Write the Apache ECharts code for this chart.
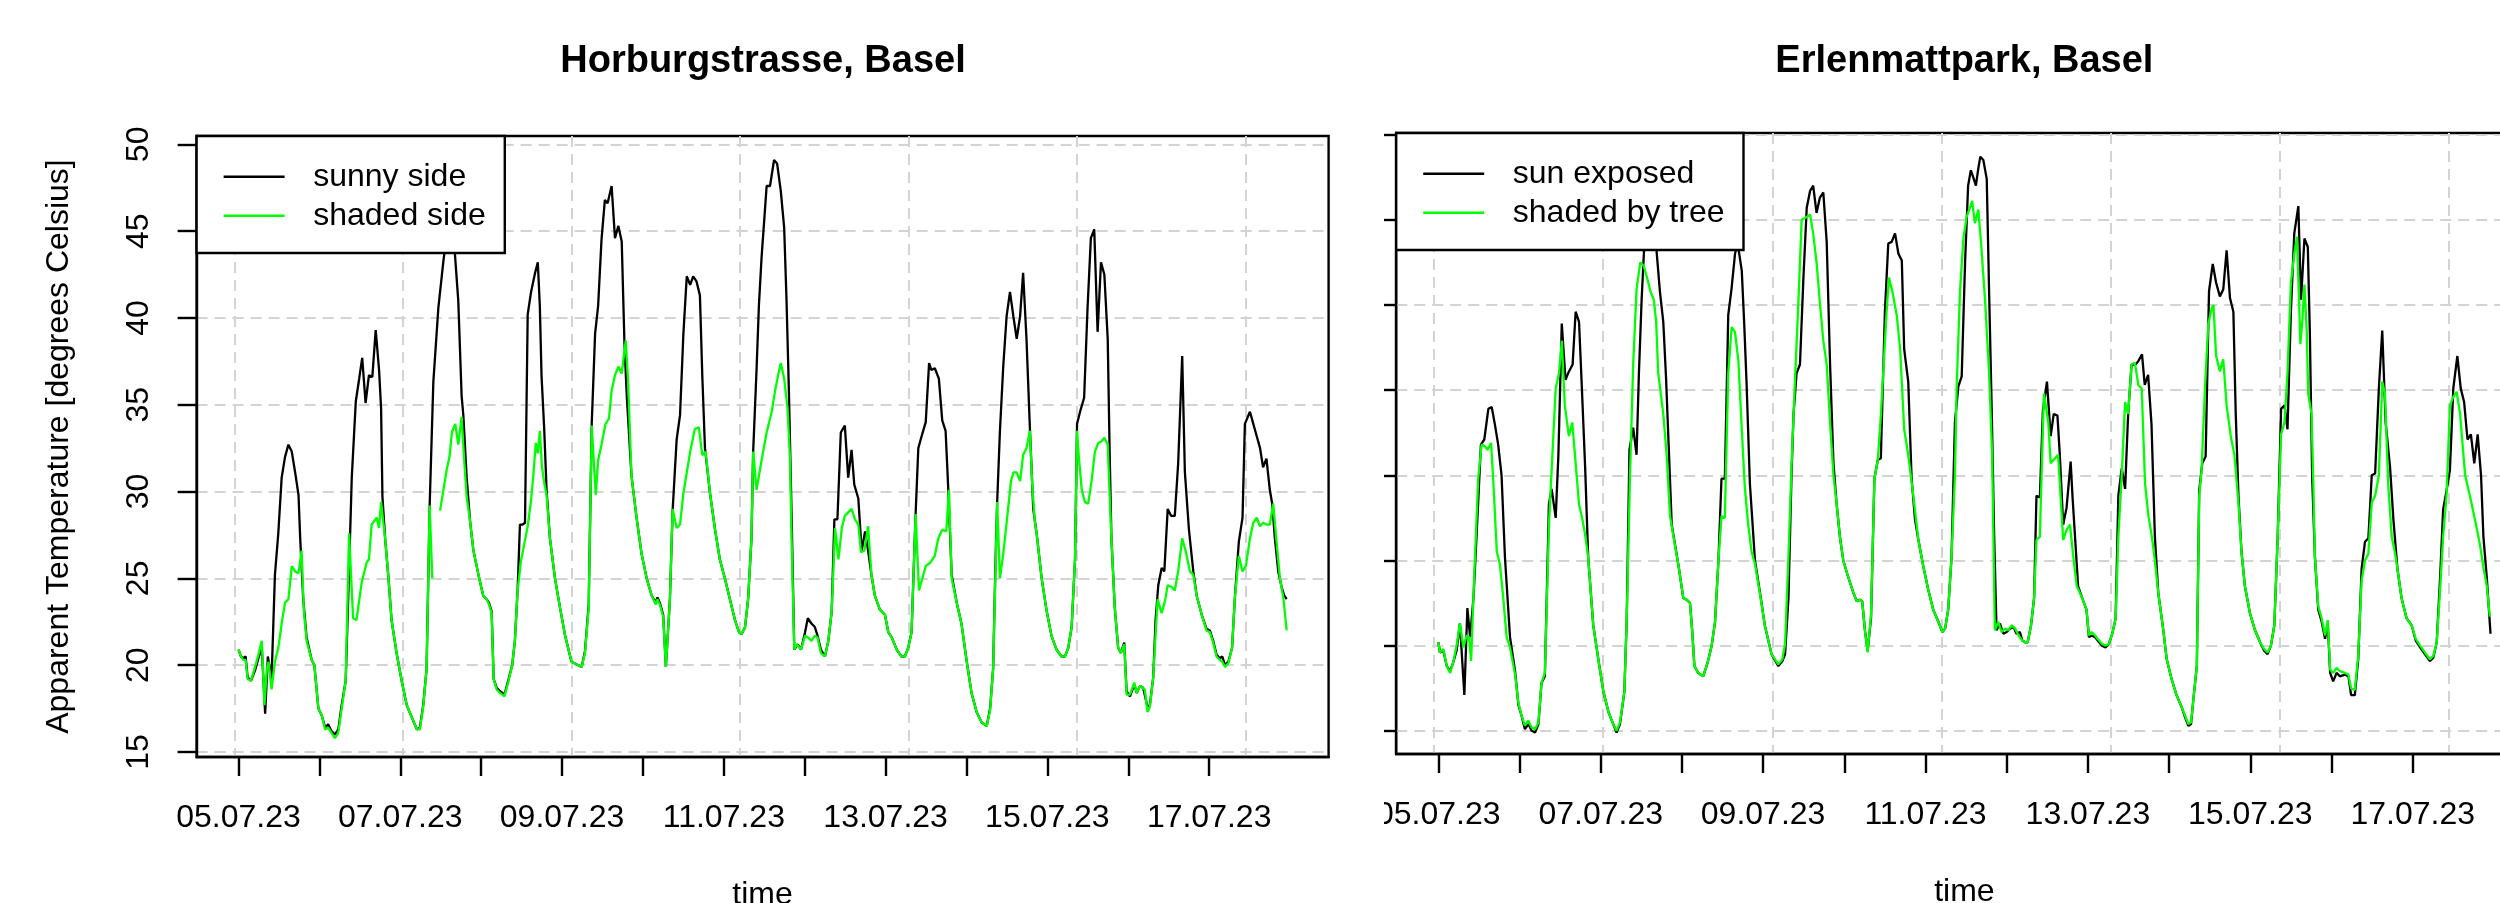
<!DOCTYPE html>
<html><head><meta charset="utf-8">
<script src="https://cdn.jsdelivr.net/npm/echarts@6.0.0/dist/echarts.min.js"></script>
<style>
html,body{margin:0;padding:0;background:#fff;}
#wrap{position:relative;width:2500px;height:903px;overflow:hidden;background:#fff;}
#left{position:absolute;left:0;top:0;width:1384px;height:903px;}
#right{position:absolute;left:1384px;top:0;width:1116px;height:903px;}
</style></head><body>
<div id="wrap"><div id="left"></div><div id="right"></div></div>
<script>
// x values: hours since 05.07.23 00:00
const tickHours = [0,24,48,72,96,120,144,168,192,216,240,264,288];
const labelHours = [0,48,96,144,192,240,288];
const dateLabels = ['05.07.23','07.07.23','09.07.23','11.07.23','13.07.23','15.07.23','17.07.23'];
const gridHours = [-1.25,48.75,98.75,148.75,198.75,248.75,298.75];
const yTicks = [15,20,25,30,35,40,45,50];

const horburgSunny = [[0,20.9],[0.7,20.5],[1.4,20.4],[2.1,20.5],[2.7,19.3],[3.7,19.1],[4.9,19.7],[5.9,20.4],[6.9,21.0],[7.9,17.2],[8.7,20.5],[9.8,19.2],[10.8,25.2],[11.8,27.6],[12.8,30.8],[13.8,32.0],[14.8,32.7],[15.8,32.3],[16.8,31.1],[17.8,29.8],[18.3,27.3],[19.2,23.8],[20.2,21.6],[21.7,20.3],[22.5,20.0],[23.7,17.5],[24.7,17.1],[25.7,16.4],[26.6,16.6],[27.6,16.2],[28.6,16.0],[29.6,16.3],[30.6,17.7],[31.8,19.1],[32.8,25.5],[33.6,30.8],[34.8,35.2],[35.8,36.5],[36.7,37.7],[37.7,35.1],[38.7,36.7],[39.7,36.6],[40.7,39.3],[41.7,37.0],[42.3,34.8],[42.7,29.7],[43.5,27.3],[44.5,25.0],[45.4,22.6],[46.9,20.7],[48.4,19.1],[49.9,17.7],[51.4,17.0],[52.9,16.3],[53.8,16.4],[54.8,17.7],[55.8,19.8],[56.7,29.1],[57.8,36.3],[59.3,40.6],[60.8,43.3],[62.3,45.5],[63.3,45.0],[64.2,43.7],[65.2,41.0],[66.2,35.5],[66.7,34.4],[67.7,30.8],[68.7,28.3],[69.7,26.6],[71.2,25.2],[72.6,24.0],[73.6,23.8],[74.3,23.6],[75.1,23.1],[75.7,19.2],[76.6,18.7],[77.6,18.5],[78.9,18.3],[80.0,19.1],[81.2,20.0],[82.0,21.4],[82.8,24.3],[83.5,28.1],[84.3,28.1],[85.0,28.2],[85.8,40.2],[86.8,41.5],[88.0,42.6],[88.8,43.2],[89.4,40.7],[89.9,36.7],[90.7,33.6],[91.4,30.1],[92.4,27.3],[93.9,25.0],[95.4,23.3],[96.9,21.7],[98.8,20.2],[100.8,20.0],[101.8,19.9],[102.8,20.8],[103.9,23.5],[104.8,33.9],[105.8,39.1],[106.7,40.7],[107.7,44.5],[108.7,46.8],[109.5,46.6],[110.7,47.6],[111.7,44.6],[112.7,45.3],[113.7,44.4],[114.5,38.6],[115.2,35.5],[116.6,30.9],[118.1,28.5],[119.6,26.4],[121.1,25.0],[122.6,24.0],[123.8,23.6],[124.3,23.9],[125.0,23.6],[126.0,22.9],[126.8,19.9],[128.0,23.8],[128.8,28.9],[130.0,33.0],[131.0,34.4],[132.0,39.1],[133.0,42.4],[134.0,41.9],[134.9,42.4],[135.9,42.1],[136.9,41.3],[137.6,36.7],[138.4,32.5],[139.9,29.9],[141.4,27.8],[142.8,26.1],[144.3,25.0],[145.8,23.8],[147.3,22.6],[148.5,21.9],[149.3,21.8],[150.3,22.2],[151.2,23.8],[152.2,27.3],[152.7,32.3],[153.7,37.0],[154.4,40.7],[155.2,43.5],[156.7,47.6],[157.7,47.6],[158.9,49.1],[159.8,48.9],[160.9,47.3],[161.9,45.2],[162.6,41.0],[163.3,35.8],[164.1,28.7],[164.9,20.9],[165.9,21.2],[166.9,20.9],[168.1,21.9],[168.9,22.7],[170.0,22.4],[171.0,22.2],[171.8,21.7],[172.8,20.9],[174.0,20.5],[175.0,21.4],[176.0,23.1],[176.8,28.4],[177.7,28.4],[178.7,33.4],[179.9,33.8],[180.9,30.8],[181.9,32.4],[182.7,30.4],[183.9,29.6],[184.9,26.6],[185.9,27.7],[186.8,26.6],[187.8,25.2],[188.8,24.0],[190.3,23.2],[191.8,22.9],[192.8,21.9],[193.8,21.6],[195.3,20.9],[196.7,20.5],[197.7,20.5],[198.7,21.0],[199.7,21.9],[200.9,28.7],[201.7,32.5],[202.7,33.2],[203.9,34.0],[204.9,37.4],[205.6,37.0],[206.6,37.1],[207.8,36.5],[208.8,34.1],[209.8,33.5],[210.6,30.1],[211.6,25.2],[213.1,23.6],[214.5,22.4],[216.0,20.3],[217.5,18.4],[219.0,17.3],[220.5,16.7],[222.0,16.5],[223.0,17.5],[223.9,19.8],[224.6,25.9],[225.1,29.4],[225.9,33.4],[226.9,37.2],[227.9,40.1],[228.9,41.5],[229.9,40.1],[230.9,38.8],[231.9,40.1],[232.8,42.6],[233.8,38.8],[234.8,33.7],[235.8,29.0],[236.8,27.6],[238.3,25.0],[239.8,23.1],[241.2,21.7],[242.7,20.9],[244.2,20.5],[245.2,20.5],[246.2,21.0],[247.2,22.2],[248.2,26.1],[248.8,33.9],[249.7,34.6],[250.9,35.4],[251.9,40.5],[252.9,44.6],[253.9,45.1],[254.9,39.2],[255.9,43.2],[256.9,42.5],[257.9,38.8],[258.5,32.0],[259.0,27.3],[260.0,23.3],[261.0,21.0],[261.8,20.7],[262.8,21.3],[263.5,18.5],[264.5,18.2],[265.8,18.9],[266.5,18.4],[267.5,18.8],[268.4,18.7],[268.9,18.6],[269.7,17.6],[270.4,17.7],[271.4,19.3],[272.1,22.6],[272.9,24.6],[273.9,25.6],[274.7,25.4],[275.7,29.0],[276.7,28.6],[277.8,28.6],[278.8,31.6],[280.0,37.8],[280.8,31.1],[282.0,27.8],[283.3,25.4],[284.3,24.0],[285.8,22.9],[287.2,22.1],[288.2,22.0],[289.2,21.4],[290.2,20.6],[291.2,20.4],[291.9,20.5],[292.7,20.0],[293.7,20.2],[294.8,21.0],[295.6,23.8],[296.8,27.1],[297.9,28.5],[298.6,33.9],[299.1,34.0],[300.1,34.6],[301.1,33.9],[302.1,33.2],[303.1,32.5],[304.0,31.4],[305.0,31.9],[306.0,30.1],[306.7,29.3],[307.5,27.3],[308.5,25.4],[309.5,24.5],[310.3,24.0],[311.0,23.8]];

const horburgShaded = [[0,20.9],[0.7,20.5],[1.4,20.3],[2.1,20.3],[2.7,19.2],[3.7,19.1],[4.9,19.9],[5.9,20.6],[6.9,21.4],[7.7,17.7],[8.4,19.8],[8.9,20.2],[9.8,18.6],[10.8,20.2],[11.8,21.0],[12.8,22.4],[13.8,23.6],[14.8,23.8],[15.8,25.7],[16.8,25.4],[17.8,25.3],[18.7,26.6],[19.4,23.1],[20.2,21.4],[21.7,20.3],[22.5,20.0],[23.7,17.5],[24.7,17.1],[25.7,16.3],[26.6,16.4],[27.6,16.1],[28.6,15.8],[29.6,16.1],[30.6,17.5],[31.8,19.1],[32.8,27.6],[34.0,22.7],[35.0,22.6],[36.5,24.7],[38.0,25.9],[38.7,26.1],[39.5,28.1],[41.0,28.5],[41.7,27.9],[42.3,29.4],[43.5,27.3],[44.5,25.0],[45.4,22.6],[46.9,20.7],[48.4,19.1],[49.9,17.7],[51.4,17.0],[52.9,16.3],[53.8,16.3],[54.8,17.6],[55.8,19.8],[56.7,29.2],[57.5,25.0],[58.6,null],[59.8,28.9],[60.8,30.1],[61.8,31.3],[62.6,32.0],[63.3,33.4],[64.3,33.9],[65.2,32.7],[66.2,34.3],[66.9,32.0],[67.7,29.7],[68.7,28.3],[69.7,26.6],[71.2,25.2],[72.6,24.0],[73.6,23.8],[74.3,23.5],[75.1,23.0],[75.7,19.2],[76.6,18.6],[77.6,18.4],[78.9,18.2],[80.0,19.0],[81.2,20.0],[82.0,21.4],[82.8,24.3],[83.8,26.0],[84.8,27.0],[85.8,28.0],[86.8,29.5],[87.5,31.0],[88.2,32.8],[88.8,32.2],[89.4,33.5],[90.0,31.5],[90.7,30.5],[91.4,29.8],[92.4,27.3],[93.9,25.0],[95.4,23.3],[96.9,21.7],[98.8,20.2],[100.8,20.0],[101.8,19.9],[102.8,20.7],[103.9,23.3],[104.8,33.8],[106.0,29.8],[106.7,31.8],[107.7,32.7],[108.9,33.9],[109.9,34.2],[110.7,35.8],[111.7,36.7],[112.7,37.2],[113.7,36.8],[114.9,38.7],[115.6,36.3],[116.6,30.9],[118.1,28.5],[119.6,26.4],[121.1,25.0],[122.6,24.0],[123.8,23.5],[124.3,23.8],[125.0,23.5],[126.0,22.8],[126.8,19.9],[128.0,23.8],[128.8,29.0],[130.0,27.9],[131.0,28.1],[132.0,29.9],[133.0,31.1],[134.2,32.5],[135.4,33.6],[136.6,33.7],[137.6,32.1],[138.6,32.3],[139.9,29.9],[141.4,27.8],[142.8,26.1],[144.3,25.0],[145.8,23.8],[147.3,22.6],[148.5,21.9],[149.3,21.8],[150.3,22.2],[151.2,23.8],[152.2,27.3],[152.7,32.3],[153.7,30.1],[155.2,31.8],[156.7,33.4],[158.2,34.6],[159.2,35.8],[160.2,36.8],[160.9,37.4],[161.9,36.5],[162.9,34.8],[163.6,32.0],[164.1,27.3],[164.9,20.9],[165.6,21.2],[166.9,20.9],[168.1,21.7],[169.0,21.6],[170.0,21.4],[171.0,21.7],[171.8,21.6],[172.8,20.7],[174.0,20.5],[175.0,21.4],[176.0,23.1],[177.0,27.9],[178.0,26.1],[179.0,27.9],[179.9,28.6],[180.9,28.8],[181.9,29.0],[182.9,28.4],[183.9,28.1],[184.7,26.5],[185.7,26.6],[186.8,28.0],[187.8,25.2],[188.8,24.0],[190.3,23.2],[191.8,22.9],[192.8,21.9],[193.8,21.6],[195.3,20.9],[196.7,20.5],[197.7,20.5],[198.7,21.0],[199.7,21.9],[200.9,28.7],[201.9,24.3],[202.9,25.0],[203.9,25.7],[205.2,25.9],[206.6,26.3],[207.6,27.3],[208.8,27.8],[210.0,27.7],[210.8,30.1],[211.6,25.0],[213.1,23.6],[214.5,22.4],[216.0,20.3],[217.5,18.4],[219.0,17.3],[220.5,16.7],[222.0,16.5],[223.0,17.4],[223.9,19.8],[225.1,29.4],[225.9,25.0],[226.9,26.4],[227.9,28.2],[229.2,30.6],[229.9,31.1],[230.9,31.1],[231.9,30.6],[232.8,32.1],[233.8,32.5],[234.8,33.5],[235.5,30.4],[236.3,28.2],[236.8,27.6],[238.3,25.0],[239.8,23.1],[241.2,21.7],[242.7,20.9],[244.2,20.5],[245.2,20.5],[246.2,21.0],[247.2,22.2],[248.2,26.1],[248.8,33.5],[249.2,32.3],[250.2,30.1],[251.1,29.4],[252.1,29.3],[253.1,30.6],[254.1,32.3],[255.1,32.8],[256.1,32.9],[256.9,33.1],[257.9,32.7],[258.5,29.7],[259.0,27.3],[260.0,23.3],[261.0,21.0],[261.8,20.7],[262.8,21.2],[263.5,18.3],[264.5,18.3],[265.8,19.0],[266.5,18.4],[267.5,18.8],[268.9,18.6],[269.7,17.3],[270.4,17.6],[271.4,19.3],[272.7,23.8],[273.9,23.0],[274.9,23.7],[275.7,24.6],[276.9,24.5],[277.8,24.3],[278.8,25.4],[280.0,27.3],[281.0,26.6],[282.3,25.4],[283.3,25.2],[284.3,24.0],[285.8,22.9],[287.2,22.0],[288.2,21.9],[289.2,21.3],[290.2,20.5],[291.2,20.3],[291.9,20.2],[292.7,19.9],[293.7,20.1],[294.8,21.0],[295.6,23.8],[296.8,26.3],[297.9,25.4],[298.9,25.7],[300.1,27.3],[301.1,28.2],[302.1,28.5],[303.1,28.0],[304.0,28.2],[305.0,28.1],[306.0,28.1],[307.0,29.3],[308.0,27.1],[309.0,25.0],[310.0,23.9],[311.0,22.0]];

const erlenSun = [[0,20.2],[0.5,19.6],[1.5,19.7],[2.5,18.8],[3.5,18.5],[4.4,19.0],[5.4,19.7],[6.4,21.3],[7.7,17.1],[8.6,22.2],[9.4,20.5],[10.4,22.8],[11.3,26.4],[12.6,31.8],[13.6,32.1],[14.8,33.9],[15.8,34.0],[16.8,32.9],[17.7,31.8],[18.7,30.0],[19.7,25.2],[21.2,20.5],[22.7,18.5],[23.7,16.5],[24.6,15.9],[25.6,15.1],[26.6,15.4],[27.6,15.0],[28.6,14.9],[29.6,15.4],[30.5,17.8],[31.5,18.2],[32.7,28.3],[33.5,29.2],[34.7,27.5],[35.5,31.2],[36.5,38.9],[37.6,35.6],[38.4,36.0],[39.7,36.5],[40.6,39.6],[41.6,39.0],[42.4,35.3],[43.4,30.5],[44.3,25.2],[45.8,21.2],[47.3,19.2],[48.8,17.3],[50.3,16.1],[51.7,15.4],[52.7,14.9],[53.7,15.4],[55.0,17.3],[55.7,21.6],[56.5,31.5],[57.6,32.8],[58.6,31.2],[59.3,36.0],[60.1,40.3],[61.1,44.4],[62.3,45.5],[63.3,45.2],[64.5,43.2],[65.5,40.8],[66.5,39.0],[67.3,35.8],[69.0,27.1],[71.0,24.7],[72.4,22.8],[73.4,22.7],[74.4,22.5],[75.0,21.0],[75.7,18.8],[76.8,18.4],[78.3,18.2],[79.6,19.0],[80.8,20.0],[81.8,21.4],[82.8,25.0],[83.7,29.8],[84.7,29.8],[85.7,39.4],[86.7,41.0],[87.7,43.0],[88.5,43.6],[89.7,42.0],[90.4,39.0],[91.1,35.5],[92.1,29.5],[93.6,25.0],[95.1,23.1],[96.5,21.2],[98.5,19.5],[100.5,18.8],[101.7,19.1],[102.5,19.5],[103.5,22.8],[104.4,30.0],[105.0,33.6],[105.9,36.0],[106.9,36.5],[107.9,41.5],[108.9,45.7],[109.9,46.7],[110.8,47.0],[111.8,45.4],[112.8,46.3],[113.8,46.6],[114.8,43.7],[115.8,36.5],[116.8,30.7],[117.7,28.4],[118.7,26.4],[119.7,25.0],[121.2,24.0],[122.7,23.1],[123.7,22.6],[124.6,22.7],[125.3,22.6],[126.1,20.9],[126.9,19.7],[127.9,21.6],[128.9,29.8],[129.9,30.9],[130.8,31.0],[132.0,39.6],[133.0,43.6],[134.0,43.7],[135.0,44.2],[136.0,43.0],[137.0,42.6],[137.7,37.4],[138.9,35.5],[139.9,29.8],[140.9,27.4],[141.9,26.2],[143.3,24.7],[144.8,23.3],[146.3,22.1],[147.8,21.4],[149.0,20.8],[149.8,21.0],[150.7,22.1],[151.7,25.2],[152.7,33.1],[153.7,35.2],[154.7,35.8],[155.7,42.5],[156.6,47.0],[157.4,47.9],[158.1,47.5],[158.9,47.0],[159.6,48.0],[160.2,48.7],[161.1,48.5],[162.1,47.4],[162.8,40.8],[163.6,33.6],[164.3,26.4],[165.0,20.9],[166.0,21.3],[167.0,20.7],[168.0,20.8],[169.0,21.0],[170.0,21.1],[170.9,20.7],[171.9,20.8],[172.6,20.3],[173.4,20.2],[174.2,20.2],[175.2,21.2],[176.1,22.8],[176.8,28.8],[177.8,28.7],[178.7,33.8],[179.9,35.5],[181.0,32.3],[181.9,33.6],[183.0,33.5],[183.7,31.2],[184.7,27.1],[185.7,28.1],[186.9,30.8],[187.5,28.6],[188.2,26.4],[189.1,23.5],[190.3,22.8],[191.6,22.1],[192.3,20.5],[193.1,20.6],[194.1,20.5],[195.3,20.2],[196.2,20.0],[197.2,19.9],[198.2,20.1],[199.2,20.7],[200.2,21.6],[201.0,28.8],[202.0,30.4],[203.0,29.2],[203.9,33.6],[204.9,36.5],[206.1,36.5],[206.9,36.7],[208.0,37.1],[208.8,35.3],[209.8,35.9],[210.8,33.0],[211.8,26.4],[212.8,23.1],[214.3,20.9],[215.3,19.2],[216.8,18.0],[218.2,17.1],[219.7,16.4],[220.7,15.8],[221.7,15.3],[222.5,15.4],[223.2,16.9],[224.2,18.8],[224.9,29.1],[225.8,30.7],[226.8,31.1],[227.8,40.8],[228.9,42.4],[229.9,41.3],[231.0,40.5],[232.0,40.9],[233.0,43.2],[234.0,40.4],[235.0,39.6],[235.7,33.6],[236.5,28.8],[237.4,25.5],[238.4,23.5],[239.9,21.9],[241.4,20.9],[242.9,20.2],[244.1,19.7],[245.1,19.5],[246.1,20.0],[247.1,21.2],[248.1,26.4],[249.1,33.9],[250.1,34.1],[251.0,32.7],[252.0,39.6],[253.0,44.2],[254.2,45.8],[255.0,40.3],[256.0,43.9],[257.0,43.4],[257.6,38.4],[258.3,29.8],[259.1,25.2],[260.1,22.1],[261.1,21.4],[262.1,20.4],[262.9,21.3],[263.6,18.4],[264.5,17.9],[265.5,18.4],[266.5,18.2],[268.0,18.3],[269.0,18.2],[269.8,17.1],[270.9,17.1],[271.9,19.2],[272.9,24.5],[273.9,26.1],[274.9,26.3],[275.9,30.0],[276.9,30.1],[278.0,35.1],[279.0,38.5],[280.0,33.1],[281.3,30.5],[282.3,27.4],[283.5,24.5],[284.7,22.8],[286.2,21.6],[287.7,21.2],[288.9,20.3],[290.2,19.9],[291.6,19.5],[293.1,19.1],[294.1,19.3],[295.1,20.2],[296.1,24.0],[297.0,28.0],[298.0,29.1],[299.0,30.3],[300.0,35.1],[301.2,37.0],[302.2,35.1],[303.2,34.3],[304.2,32.1],[305.2,32.4],[306.2,30.7],[307.2,32.4],[308.2,30.0],[308.9,26.4],[309.9,24.0],[311.0,20.7]];

const erlenShade = [[0,20.2],[0.5,19.6],[1.5,19.8],[2.5,18.8],[3.5,18.4],[4.4,19.0],[5.4,20.0],[6.4,21.3],[7.4,19.9],[8.4,20.6],[9.1,20.5],[9.7,19.1],[10.6,24.0],[11.8,29.8],[12.8,31.8],[13.8,31.7],[14.6,31.5],[15.6,31.9],[16.3,29.5],[17.3,25.5],[18.2,24.8],[19.2,22.8],[20.2,20.5],[21.2,19.9],[22.7,18.3],[23.7,16.6],[24.6,15.9],[25.6,15.3],[26.6,15.6],[27.6,15.2],[28.6,15.1],[29.6,15.5],[30.5,17.8],[31.5,18.4],[32.7,27.0],[33.5,30.3],[34.7,35.1],[35.7,36.0],[36.5,37.9],[37.4,34.1],[38.6,32.3],[39.6,33.1],[40.6,30.7],[41.6,28.3],[42.6,27.4],[43.4,26.5],[44.3,25.2],[45.8,21.2],[47.3,19.2],[48.8,17.3],[50.3,16.1],[51.7,15.4],[52.7,15.0],[53.7,15.5],[55.0,17.3],[55.7,21.6],[56.6,29.5],[57.6,36.5],[58.6,40.9],[59.7,42.5],[60.7,42.3],[61.7,41.6],[62.7,40.8],[63.7,40.3],[64.4,39.0],[65.0,36.0],[66.5,33.6],[67.5,31.2],[68.5,27.6],[69.5,26.4],[71.0,24.7],[72.4,22.8],[73.4,22.7],[74.4,22.5],[75.0,21.0],[75.7,18.8],[76.8,18.4],[78.3,18.2],[79.6,19.0],[80.8,20.0],[81.8,21.4],[82.8,25.0],[83.7,27.6],[84.7,27.5],[85.7,36.0],[86.7,38.7],[87.7,38.4],[88.7,36.7],[89.7,32.7],[90.6,29.3],[91.6,27.1],[92.6,25.5],[93.6,24.8],[95.1,23.0],[96.5,21.2],[98.5,19.5],[100.5,18.9],[101.7,19.2],[102.5,20.1],[103.5,25.2],[104.4,30.5],[105.4,35.5],[106.4,40.0],[107.4,45.0],[108.4,45.1],[109.9,45.3],[110.8,44.2],[111.8,42.5],[112.8,40.1],[113.8,37.9],[114.8,36.5],[115.8,33.1],[116.8,30.0],[117.7,28.4],[118.7,26.4],[119.7,25.0],[121.2,24.0],[122.7,23.1],[123.7,22.6],[124.6,22.7],[125.3,22.6],[126.1,20.9],[126.9,19.6],[127.9,21.8],[128.9,29.8],[129.9,30.9],[130.8,33.5],[131.5,36.0],[132.5,39.6],[133.2,41.6],[134.2,40.8],[135.5,39.4],[136.5,37.4],[137.7,32.7],[138.9,31.2],[140.4,28.8],[141.9,26.2],[143.3,24.7],[144.8,23.3],[146.3,22.1],[147.8,21.4],[149.0,20.8],[149.8,21.0],[150.7,22.1],[151.7,25.2],[152.7,30.0],[153.2,35.1],[154.2,40.8],[155.2,43.9],[156.2,45.2],[157.1,45.7],[157.8,46.1],[158.6,44.8],[159.6,45.6],[160.4,43.7],[161.6,40.3],[162.8,36.0],[163.7,31.2],[164.5,20.9],[165.5,21.4],[166.5,20.8],[167.5,21.0],[168.5,20.9],[169.5,21.2],[170.5,21.0],[171.5,20.6],[172.6,20.3],[173.4,20.2],[174.2,20.2],[175.2,21.2],[176.1,22.8],[176.8,26.2],[177.8,26.4],[179.0,34.8],[180.3,33.1],[181.0,30.7],[182.3,31.0],[183.2,31.2],[184.7,26.2],[185.7,26.8],[186.7,27.1],[187.7,25.2],[188.7,23.5],[190.3,22.8],[191.6,22.1],[192.3,20.6],[193.1,20.8],[194.1,20.6],[195.3,20.3],[196.2,20.1],[197.2,20.0],[198.2,20.1],[199.2,20.7],[200.2,21.6],[201.0,26.4],[202.0,30.0],[203.0,34.3],[203.9,33.6],[204.9,36.5],[205.9,36.6],[206.9,35.3],[207.9,35.1],[208.9,29.5],[209.9,27.6],[210.9,26.4],[211.8,25.0],[212.8,23.1],[214.3,20.9],[215.3,19.2],[216.8,18.0],[218.2,17.1],[219.7,16.4],[220.7,15.9],[221.7,15.4],[222.5,15.5],[223.2,16.9],[224.2,18.8],[224.9,28.8],[225.6,30.3],[226.6,35.1],[227.6,38.9],[228.6,39.8],[229.1,40.0],[229.9,37.0],[231.0,36.1],[232.0,36.8],[233.0,34.1],[234.3,32.2],[235.3,31.2],[236.5,28.4],[237.4,25.5],[238.4,23.5],[239.9,21.9],[241.4,20.9],[242.9,20.2],[244.1,19.8],[245.1,19.6],[246.1,20.0],[247.1,21.2],[248.1,26.4],[249.1,32.4],[250.1,33.1],[251.0,36.0],[252.0,41.3],[253.0,43.0],[253.8,44.0],[254.4,40.3],[254.8,37.7],[255.4,39.1],[256.0,41.2],[256.7,38.4],[257.1,34.8],[258.1,33.6],[258.6,29.8],[259.1,25.2],[260.1,22.3],[261.1,21.6],[262.1,20.6],[262.9,21.5],[263.6,18.6],[264.5,18.4],[265.5,18.7],[266.5,18.5],[268.0,18.4],[269.0,18.3],[269.8,17.5],[270.9,17.4],[271.9,19.4],[272.9,23.8],[273.9,25.0],[274.9,25.4],[275.9,28.4],[276.9,28.8],[278.0,30.0],[279.0,35.5],[279.8,34.8],[280.8,29.3],[281.8,26.4],[282.8,25.4],[283.5,24.5],[284.7,22.8],[286.2,21.6],[287.7,21.2],[288.9,20.4],[290.2,20.0],[291.6,19.6],[293.1,19.2],[294.1,19.4],[295.1,20.2],[296.1,23.3],[297.0,26.4],[298.0,28.8],[299.0,34.1],[300.0,34.6],[301.0,34.9],[302.0,33.6],[303.5,30.0],[304.9,28.8],[306.4,27.4],[307.9,25.9],[308.9,24.6],[309.9,23.5],[310.8,21.7]];

const FONT = "'Liberation Sans', Arial, Helvetica, sans-serif";
const GRID_LINE = { color: '#d3d3d3', width: 2, type: [11, 7] };
const AX_LINE = { color: '#000', width: 2.4 };
const TXT = { fontSize: 32, lineHeight: 32, color: '#000', fontFamily: FONT };

function buildOption(p) {
  return {
    animation: false,
    backgroundColor: '#fff',
    graphic: [{
      type: 'text', x: p.titleX, y: 61.5, silent: true,
      style: { text: p.title, font: 'bold 38px ' + FONT, fill: '#000', textAlign: 'center', textVerticalAlign: 'middle' }
    }],
    legend: {
      left: p.gridLeft, top: p.gridTop, orient: 'vertical',
      data: p.names.slice(),
      icon: 'path://M0,0H61V2.6H0Z M84.6,0H84.61V2.6H84.6Z',
      itemWidth: 84.6, itemHeight: 2.6, itemGap: 7,
      padding: [24.7, 19, 21.3, 27],
      backgroundColor: '#fff', borderColor: '#000', borderWidth: 2.4, borderRadius: 0,
      textStyle: Object.assign({ padding: 0 }, TXT),
      itemStyle: { borderWidth: 0, borderColor: 'transparent' },
      selectedMode: false
    },
    grid: {
      left: p.gridLeft, top: p.gridTop, width: p.gridWidth, height: p.gridHeight,
      show: true, borderColor: '#000', borderWidth: 2.4, backgroundColor: 'transparent',
      containLabel: false, outerBoundsMode: 'none'
    },
    xAxis: [{
      type: 'value', min: -12.44, max: 323.44, position: 'bottom',
      axisLine: { show: true, onZero: false, lineStyle: AX_LINE },
      axisTick: { show: true, inside: false, length: 19, customValues: tickHours, lineStyle: AX_LINE },
      axisLabel: Object.assign({ show: true, customValues: labelHours, margin: 45,
        formatter: function (v) { const i = labelHours.indexOf(v); return i >= 0 ? dateLabels[i] : ''; } }, TXT),
      splitLine: { show: false },
      name: 'time', nameLocation: 'middle', nameGap: 122, nameTextStyle: TXT
    }, {
      type: 'value', min: -12.44, max: 323.44, position: 'top',
      axisLine: { show: false }, axisLabel: { show: false },
      axisTick: { show: false, customValues: gridHours },
      splitLine: { show: true, lineStyle: GRID_LINE }
    }],
    yAxis: {
      type: 'value', min: p.yMin, max: p.yMax, position: 'left',
      axisLine: { show: true, onZero: false, lineStyle: AX_LINE },
      axisTick: { show: true, inside: false, length: 19, customValues: yTicks, lineStyle: AX_LINE },
      axisLabel: Object.assign({ show: p.showYLabels, customValues: yTicks, rotate: 90, margin: 41 }, TXT),
      splitLine: { show: true, lineStyle: GRID_LINE },
      name: p.yName, nameLocation: 'middle', nameRotate: 90, nameGap: 121.7, nameTextStyle: TXT
    },
    series: [{
      type: 'line', name: p.names[0], data: p.data0, xAxisIndex: 0, yAxisIndex: 0,
      showSymbol: false, symbol: 'none', color: '#000', itemStyle: { color: '#000' },
      lineStyle: { color: '#000', width: 2.3 }, silent: true, connectNulls: false
    }, {
      type: 'line', name: p.names[1], data: p.data1, xAxisIndex: 0, yAxisIndex: 0,
      showSymbol: false, symbol: 'none', color: '#00ff00', itemStyle: { color: '#00ff00' },
      lineStyle: { color: '#00ff00', width: 2.3 }, silent: true, connectNulls: false
    }]
  };
}

const leftChart = echarts.init(document.getElementById('left'), null, { renderer: 'canvas' });
leftChart.setOption(buildOption({
  title: 'Horburgstrasse, Basel', titleX: 763,
  names: ['sunny side', 'shaded side'], data0: horburgSunny, data1: horburgShaded,
  gridLeft: 196.6, gridTop: 136, gridWidth: 1132, gridHeight: 621,
  yMin: 14.71, yMax: 50.48, showYLabels: true,
  yName: 'Apparent Temperature [degrees Celsius]'
}));

const rightChart = echarts.init(document.getElementById('right'), null, { renderer: 'canvas' });
rightChart.setOption(buildOption({
  title: 'Erlenmattpark, Basel', titleX: 580.4,
  names: ['sun exposed', 'shaded by tree'], data0: erlenSun, data1: erlenShade,
  gridLeft: 12.2, gridTop: 133, gridWidth: 1136.4, gridHeight: 621,
  yMin: 13.64, yMax: 50.09, showYLabels: false, yName: ''
}));
</script>
</body></html>
